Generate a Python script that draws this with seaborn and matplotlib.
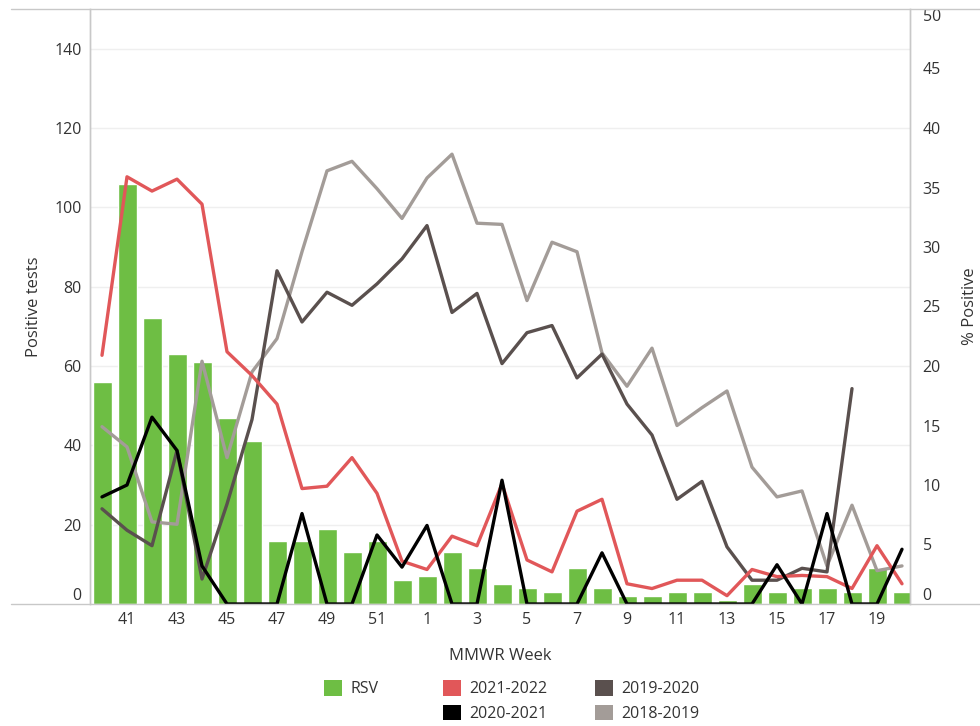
import numpy as np
import pandas as pd
import seaborn as sns
import matplotlib.pyplot as plt
from matplotlib.lines import Line2D
from matplotlib.patches import Patch

# MMWR weeks 40 (2021) to 20 (2022)
weeks = list(range(40, 53)) + list(range(1, 21))

# RSV positive tests (left axis)
rsv = [56, 106, 72, 63, 61, 47, 41, 16, 16, 19, 13, 16, 6, 7, 13, 9, 5,
       4, 3, 9, 4, 2, 2, 3, 3, 1, 5, 3, 4, 4, 3, 9, 3]

# % positive by season (right axis)
s2122 = [20.9, 35.9, 34.7, 35.7, 33.6, 21.2, 19.2, 16.8, 9.7, 9.9, 12.3, 9.3, 3.6,
         2.9, 5.7, 4.9, 10.1, 3.7, 2.7, 7.8, 8.8, 1.7, 1.3, 2.0, 2.0, 0.7, 2.9,
         2.3, 2.4, 2.3, 1.3, 4.9, 1.7]
s2021 = [9.0, 10.0, 15.7, 12.9, 3.2, 0, 0, 0, 7.6, 0, 0, 5.8, 3.1,
         6.6, 0, 0, 10.4, 0, 0, 0, 4.3, 0, 0, 0, 0, 0, 0,
         3.3, 0, 7.6, 0, 0, 4.6]
s1920 = [8.0, 6.2, 4.9, 12.9, 2.1, 8.4, 15.5, 28.0, 23.7, 26.2, 25.1, 26.9, 29.0,
         31.8, 24.5, 26.1, 20.2, 22.8, 23.4, 19.0, 21.0, 16.8, 14.2, 8.8, 10.3, 4.8, 2.0,
         2.0, 3.0, 2.7, 18.1, np.nan, np.nan]
s1819 = [14.9, 13.2, 6.9, 6.7, 20.4, 12.3, 19.5, 22.3, 29.6, 36.4, 37.2, 34.9, 32.4,
         35.8, 37.8, 32.0, 31.9, 25.5, 30.4, 29.6, 21.1, 18.3, 21.5, 15.0, 16.5, 17.9, 11.5,
         9.0, 9.5, 3.2, 8.3, 2.8, 3.2]

seasons = ['2018-2019', '2019-2020', '2021-2022', '2020-2021']
season_colors = {'2021-2022': '#e15759', '2020-2021': '#000000',
                 '2019-2020': '#5a504e', '2018-2019': '#a39c98'}
bar_color = '#6ebe44'
text_color = '#333333'

pos = np.arange(len(weeks))
bars = pd.DataFrame({'pos': pos, 'week': [str(w) for w in weeks], 'rsv': rsv})
lines = pd.concat([
    pd.DataFrame({'pos': pos, 'pct': vals, 'season': name})
    for name, vals in [('2018-2019', s1819), ('2019-2020', s1920),
                       ('2021-2022', s2122), ('2020-2021', s2021)]
]).dropna()

sns.set_theme(style='white')
plt.rcParams['font.family'] = ['Open Sans', 'DejaVu Sans']

fig = plt.figure(figsize=(9.8, 7.26), dpi=100)
ax = fig.add_axes([90 / 980, 122 / 726, 820 / 980, 595 / 726])

sns.barplot(data=bars, x='week', y='rsv', color=bar_color, saturation=1,
            width=0.76, ax=ax, zorder=2)
ax.set_xlim(-0.48, 32.32)
ax.set_ylim(0, 150)
ax.set_yticks(range(0, 141, 20))
ax.set_xticks(pos[1::2])
ax.set_xticklabels([str(w) for w in weeks[1::2]])
ax.grid(axis='y', color='#efefef', lw=1, zorder=0)
ax.set_axisbelow(True)
ax.tick_params(axis='both', length=0, labelsize=11.5, labelcolor=text_color)
ax.tick_params(axis='y', pad=6)
ax.tick_params(axis='x', pad=6)
ax.get_yticklabels()[0].set_va('bottom')
ax.set_xlabel('MMWR Week', fontsize=12, color=text_color, labelpad=14)
ax.set_ylabel('Positive tests', fontsize=12, color=text_color, labelpad=9)

ax2 = ax.twinx()
sns.lineplot(data=lines, x='pos', y='pct', hue='season', hue_order=seasons,
             palette=season_colors, lw=2.4, legend=False, ax=ax2)
ax2.set_ylim(0, 50)
ax2.set_yticks(range(0, 51, 5))
ax2.tick_params(axis='y', length=0, pad=9, labelsize=11.5, labelcolor=text_color)
ticklabels = ax2.get_yticklabels()
ticklabels[0].set_va('bottom')
ticklabels[-1].set_va('top')
ax2.set_ylabel('% Positive', fontsize=12, color=text_color, labelpad=15, rotation=90)
ax2.set_xlim(-0.48, 32.32)

for a in (ax, ax2):
    for side in ('top', 'bottom'):
        a.spines[side].set_visible(False)
    for side in ('left', 'right'):
        a.spines[side].set_color('#c8c8c8')
        a.spines[side].set_linewidth(1)

# long horizontal rules at top and bottom of the pane
for yy in (604, 9):
    fig.add_artist(Line2D([11 / 980, 1], [1 - yy / 726, 1 - yy / 726],
                          transform=fig.transFigure, color='#c8c8c8', lw=1))

# legend in three columns
cols = [
    (324, [('RSV', bar_color)]),
    (443, [('2021-2022', season_colors['2021-2022']), ('2020-2021', season_colors['2020-2021'])]),
    (595, [('2019-2020', season_colors['2019-2020']), ('2018-2019', season_colors['2018-2019'])]),
]
for x0, items in cols:
    handles = [Patch(facecolor=c, edgecolor='none', label=l) for l, c in items]
    fig.legend(handles=handles, loc='upper left',
               bbox_to_anchor=(x0 / 980, 1 - 680 / 726), frameon=False,
               fontsize=11.5, handlelength=1.15, handleheight=1.15,
               handletextpad=0.5, labelspacing=0.45, borderpad=0,
               borderaxespad=0, labelcolor=text_color)

fig.savefig('out.png', dpi=100)
